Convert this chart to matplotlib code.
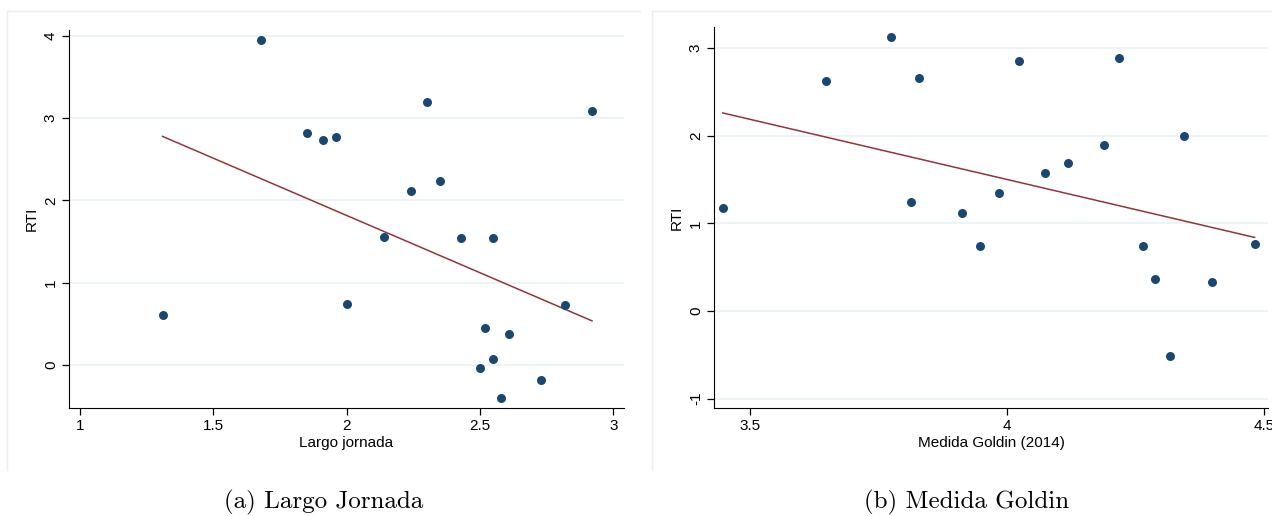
import numpy as np
import matplotlib
matplotlib.use('Agg')
import matplotlib.pyplot as plt
from matplotlib.lines import Line2D

# Panel (a): Largo jornada vs RTI
largo_x = [1.31, 1.68, 1.85, 1.91, 1.96, 2.00, 2.14, 2.24, 2.30, 2.35,
           2.43, 2.55, 2.52, 2.50, 2.55, 2.61, 2.58, 2.73, 2.82, 2.92]
largo_rti = [0.61, 3.95, 2.82, 2.73, 2.77, 0.74, 1.56, 2.11, 3.20, 2.24,
             1.55, 1.55, 0.45, -0.04, 0.07, 0.38, -0.40, -0.18, 0.73, 3.09]
# fitted line (slope, intercept)
largo_fit = [-1.391, 4.60]

# Panel (b): Medida Goldin (2014) vs RTI
goldin_x = [3.447, 3.648, 3.774, 3.829, 3.813, 3.912, 3.947, 3.984, 4.023, 4.074,
            4.119, 4.189, 4.218, 4.265, 4.288, 4.317, 4.344, 4.399, 4.482]
goldin_rti = [1.17, 2.62, 3.13, 2.66, 1.24, 1.12, 0.74, 1.35, 2.85, 1.58,
              1.69, 1.89, 2.89, 0.74, 0.37, -0.51, 2.00, 0.33, 0.77]
goldin_fit = [-1.372, 6.989]

navy = '#1a476f'
maroon = '#90353b'
grid_col = '#eaf2f3'

fig = plt.figure(figsize=(12.72, 5.16), dpi=100)
W, H = 1272, 516


def box(l, r, t, b):
    return [l / W, (H - b) / H, (r - l) / W, (b - t) / H]


def panel(ax, x, y, fit, xlim, ylim, xticks, yticks, xlabel):
    x = np.array(x)
    y = np.array(y)
    ax.scatter(x, y, s=42, color=navy, zorder=3, linewidths=0)
    slope, icpt = fit
    xs = np.array([x.min(), x.max()])
    ax.plot(xs, icpt + slope * xs, color=maroon, lw=1.1, zorder=2)
    ax.set_xlim(*xlim)
    ax.set_ylim(*ylim)
    ax.set_xticks(xticks)
    ax.set_yticks(yticks)
    ax.set_xticklabels([('%g' % t) for t in xticks], fontsize=11)
    ax.set_yticklabels([('%g' % t) for t in yticks], fontsize=11,
                       rotation=90, va='center')
    for t in yticks:
        ax.axhline(t, color=grid_col, lw=1.2, zorder=0)
    for s in ['top', 'right']:
        ax.spines[s].set_visible(False)
    ax.tick_params(length=5, width=0.9, pad=3)
    ax.set_xlabel(xlabel, fontsize=11, labelpad=2)
    ax.set_ylabel('RTI', fontsize=11, labelpad=4)


plt.rcParams['font.family'] = ['Liberation Sans', 'DejaVu Sans']

ax1 = fig.add_axes(box(69, 624, 30, 408))
panel(ax1, largo_x, largo_rti, largo_fit, (0.959, 3.04), (-0.52, 4.07),
      [1, 1.5, 2, 2.5, 3], [0, 1, 2, 3, 4], 'Largo jornada')

ax2 = fig.add_axes(box(714, 1268, 27, 408))
panel(ax2, goldin_x, goldin_rti, goldin_fit, (3.43, 4.508), (-1.106, 3.24),
      [3.5, 4, 4.5], [-1, 0, 1, 2, 3], 'Medida Goldin (2014)')

# faint panel frames
frame = '#eeeeee'
for (l, r) in [(7, 640), (652, 1272)]:
    fig.add_artist(Line2D([l / W, r / W], [(H - 11) / H] * 2, color=frame, lw=1))
    fig.add_artist(Line2D([l / W] * 2, [(H - 11) / H, (H - 470) / H], color=frame, lw=1))

# captions
fig.text(324 / W, 1 - 502 / H, '(a) Largo Jornada', family='cmr10',
         fontsize=18, ha='center', va='center')
fig.text(967 / W, 1 - 502 / H, '(b) Medida Goldin', family='cmr10',
         fontsize=18, ha='center', va='center')

fig.savefig('out.png', dpi=100)
